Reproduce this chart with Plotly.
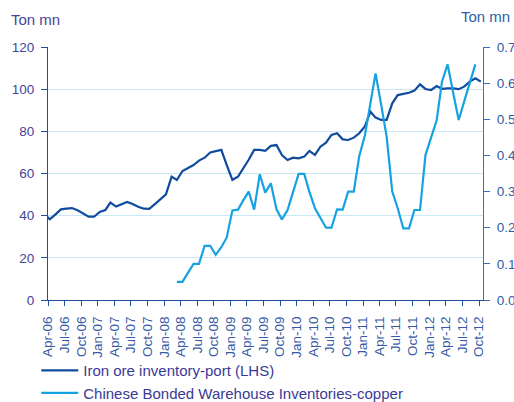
import pandas as pd
import plotly.graph_objects as go

# Monthly series (first month Mar-06)
start_month = "2006-03"
iron_ore = [40.9, 38.3, 40.5, 43.0, 43.3, 43.6, 42.6, 41.0, 39.5, 39.5,
            41.8, 42.7, 46.2, 44.3, 45.3, 46.5, 45.5, 44.2, 43.3, 43.2,
            45.5, 48.0, 50.1, 58.5, 56.9, 61.2, 62.5, 64.0, 66.1, 67.5,
            70.0, 70.7, 71.2, 64.0, 57.0, 58.5, 62.0, 66.5, 71.2, 71.2,
            70.7, 73.1, 73.5, 68.8, 66.4, 67.5, 67.2, 68.0, 70.7, 68.8,
            72.7, 74.6, 78.3, 79.1, 76.2, 75.9, 77.0, 79.1, 82.3, 89.3,
            86.5, 85.4, 85.4, 93.3, 97.2, 97.7, 98.3, 99.3, 102.3, 100.1,
            99.6, 101.5, 100.1, 100.4, 100.4, 100.0, 101.2, 103.6, 105.2, 103.6]

copper_start_month = "2008-03"
copper = [0.05, 0.05, 0.075, 0.10, 0.10, 0.15, 0.15, 0.125, 0.146, 0.173,
          0.248, 0.25, 0.275, 0.30, 0.25, 0.348, 0.297, 0.323, 0.251, 0.223,
          0.249, 0.30, 0.349, 0.349, 0.30, 0.254, 0.226, 0.20, 0.20, 0.251,
          0.25, 0.30, 0.30, 0.398, 0.455, 0.544, 0.627, 0.54, 0.452, 0.30,
          0.254, 0.198, 0.198, 0.249, 0.249, 0.401, 0.447, 0.498, 0.604, 0.652,
          0.575, 0.498, 0.549, 0.60, 0.652]

tick_labels = ["Apr-06", "Jul-06", "Oct-06", "Jan-07", "Apr-07", "Jul-07", "Oct-07",
               "Jan-08", "Apr-08", "Jul-08", "Oct-08", "Jan-09", "Apr-09", "Jul-09",
               "Oct-09", "Jan-10", "Apr-10", "Jul-10", "Oct-10", "Jan-11", "Apr-11",
               "Jul-11", "Oct-11", "Jan-12", "Apr-12", "Jul-12", "Oct-12"]

iron_x = pd.date_range(start_month, periods=len(iron_ore), freq="MS") + pd.Timedelta(days=10)
copper_x = pd.date_range(copper_start_month, periods=len(copper), freq="MS") + pd.Timedelta(days=10)
tick_vals = [pd.to_datetime(t, format="%b-%y") for t in tick_labels]

FONT = "Liberation Sans, Arial, sans-serif"

fig = go.Figure()
fig.add_trace(go.Scatter(x=iron_x, y=iron_ore, mode="lines",
                         name="Iron ore inventory-port (LHS)",
                         line=dict(color="#0f4c9e", width=2.2)))
fig.add_trace(go.Scatter(x=copper_x, y=copper, mode="lines", yaxis="y2",
                         name="Chinese Bonded Warehouse Inventories-copper",
                         line=dict(color="#16a2e2", width=2.2)))

fig.update_layout(
    width=514, height=402,
    margin=dict(l=48, r=31, t=47, b=102, autoexpand=False),
    paper_bgcolor="white", plot_bgcolor="white",
    font=dict(family=FONT, size=13, color="#3f3f96"),
    xaxis=dict(type="date", range=["2006-04-01", "2012-10-23"],
               tickvals=tick_vals, ticktext=tick_labels, tickangle=-90,
               showline=True, linecolor="#1f4e9c", linewidth=1.2,
               ticks="outside", ticklen=5, tickcolor="#1f4e9c",
               showgrid=False, zeroline=False, automargin=False,
               ticklabelstandoff=5,
               tickfont=dict(size=13.5, color="#3559a6")),
    yaxis=dict(range=[0, 120], dtick=20, showline=True, linecolor="#1f4e9c",
               linewidth=1.2, ticks="outside", ticklen=6, tickcolor="#1f4e9c",
               showgrid=True, gridcolor="#c9e8f7", gridwidth=1, zeroline=False,
               automargin=False, ticklabelstandoff=4,
               tickfont=dict(size=13.5, color="#45459a")),
    yaxis2=dict(range=[0, 0.7], dtick=0.1, tickformat=".1f", overlaying="y",
                side="right", showline=True, linecolor="#3d6cb8", linewidth=1.2,
                ticks="outside", ticklen=6, tickcolor="#3d6cb8",
                showgrid=False, zeroline=False, automargin=False,
                ticklabelstandoff=4,
                tickfont=dict(size=13.5, color="#2e5ea8")),
    legend=dict(orientation="v", x=-0.027, xanchor="left", y=-0.214, yanchor="top",
                font=dict(size=15, color="#3a3a96"), bgcolor="rgba(0,0,0,0)",
                itemwidth=37, tracegroupgap=0),
    showlegend=True,
    annotations=[
        dict(text="Ton mn", xref="paper", yref="paper", x=-0.09, y=1.107,
             xanchor="left", yanchor="middle", showarrow=False,
             font=dict(size=15, color="#45459a")),
        dict(text="Ton mn", xref="paper", yref="paper", x=1.0667, y=1.1225,
             xanchor="right", yanchor="middle", showarrow=False,
             font=dict(size=15, color="#2e5ea8")),
    ],
)

fig.write_html("out.html", config={"displayModeBar": False},
               post_script="document.body.style.margin='0';document.body.style.padding='0';")
